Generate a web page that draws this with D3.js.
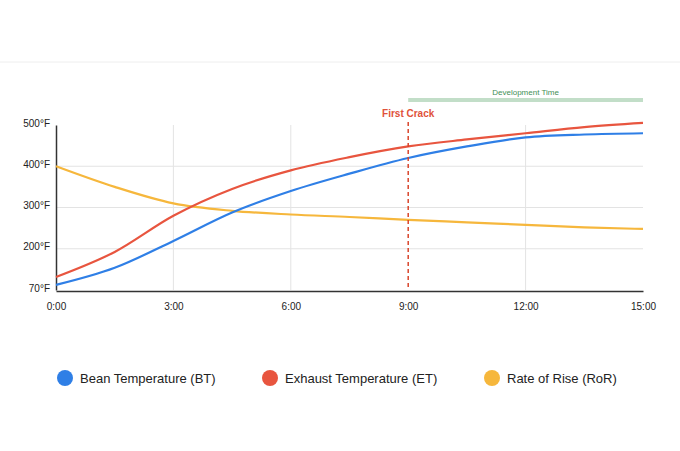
<!DOCTYPE html>
<html><head><meta charset="utf-8">
<script src="https://cdn.jsdelivr.net/npm/d3@7"></script>
<style>body{margin:0;background:#fff;font-family:Helvetica,Arial,"Liberation Sans",sans-serif}</style>
</head><body>
<svg id="c" width="680" height="451"></svg>
<script>
const minutes = [0, 1.5, 3, 4.5, 6, 7.5, 9, 10.5, 12, 13.5, 15];
const beanTemp = [86, 140, 219, 288, 340, 382, 420, 448, 470, 477, 480];
const exhaustTemp = [111, 190, 280, 345, 390, 422, 448, 465, 480, 495, 505];
const rateOfRise = [400, 350, 310, 292, 283, 277, 270, 264, 258, 252, 248];
const yTicks = [70, 200, 300, 400, 500];
const xTicks = [0, 3, 6, 9, 12, 15];
const firstCrack = 9;

const svg = d3.select("#c");
svg.append("line").attr("x1", 0).attr("x2", 680).attr("y1", 62).attr("y2", 62).attr("stroke", "#eee");

const x = d3.scaleLinear().domain([0, 15]).range([56, 643]);
// ticks are evenly spaced in the original, so a piecewise scale
const y = d3.scaleLinear().domain(yTicks).range([290, 248.75, 207.5, 166.25, 125]);

const g = svg.append("g");
g.selectAll("line.hg").data([200, 300, 400]).join("line")
  .attr("x1", x(0)).attr("x2", x(15)).attr("y1", d => y(d)).attr("y2", d => y(d))
  .attr("stroke", "#e3e3e3");
g.selectAll("line.vg").data([3, 6, 12]).join("line")
  .attr("x1", d => x(d)).attr("x2", d => x(d)).attr("y1", 125).attr("y2", 290)
  .attr("stroke", "#e3e3e3");

const yAxis = g.append("g").attr("transform", `translate(${x(0)},0)`)
  .call(d3.axisLeft(y).tickValues(yTicks).tickSize(0).tickPadding(6).tickFormat(d => d + "°F"));
yAxis.select(".domain").attr("stroke", "#333").attr("stroke-width", 1.5);
yAxis.selectAll("text").attr("font-size", 10).attr("fill", "#222");
yAxis.selectAll(".tick text").attr("transform", "translate(0,-2)");

const xAxis = g.append("g").attr("transform", `translate(0,${y(70) + 1})`)
  .call(d3.axisBottom(x).tickValues(xTicks).tickSize(0).tickPadding(12).tickFormat(d => d + ":00"));
xAxis.select(".domain").attr("stroke", "#333").attr("stroke-width", 1.5);
xAxis.selectAll("text").attr("font-size", 10).attr("fill", "#222");

const line = d3.line().x((d, i) => x(minutes[i])).y(d => y(d)).curve(d3.curveMonotoneX);
[[rateOfRise, "#f6b73c"], [beanTemp, "#2f7fe6"], [exhaustTemp, "#e8553f"]].forEach(([s, c]) => {
  g.append("path").attr("d", line(s)).attr("fill", "none").attr("stroke", c).attr("stroke-width", 2.2);
});

g.append("line").attr("x1", x(firstCrack)).attr("x2", x(firstCrack)).attr("y1", 122).attr("y2", 290)
  .attr("stroke", "#d9452c").attr("stroke-width", 1.5).attr("stroke-dasharray", "4,3");
g.append("text").attr("x", x(firstCrack)).attr("y", 117).attr("text-anchor", "middle")
  .attr("font-size", 10).attr("font-weight", "bold").attr("fill", "#e0523a").text("First Crack");

g.append("rect").attr("x", x(firstCrack)).attr("y", 98).attr("width", x(15) - x(firstCrack)).attr("height", 4)
  .attr("fill", "#c2dec8");
g.append("text").attr("x", (x(firstCrack) + x(15)) / 2).attr("y", 95).attr("text-anchor", "middle")
  .attr("font-size", 8).attr("fill", "#3f8f55").text("Development Time");

const legend = [["Bean Temperature (BT)", "#2f7fe6", 65], ["Exhaust Temperature (ET)", "#e8553f", 270], ["Rate of Rise (RoR)", "#f6b73c", 492]];
legend.forEach(([t, c, lx]) => {
  svg.append("circle").attr("cx", lx).attr("cy", 378).attr("r", 8).attr("fill", c);
  svg.append("text").attr("x", lx + 15).attr("y", 382.5).attr("font-size", 13).attr("fill", "#222").text(t);
});
</script>
</body></html>
